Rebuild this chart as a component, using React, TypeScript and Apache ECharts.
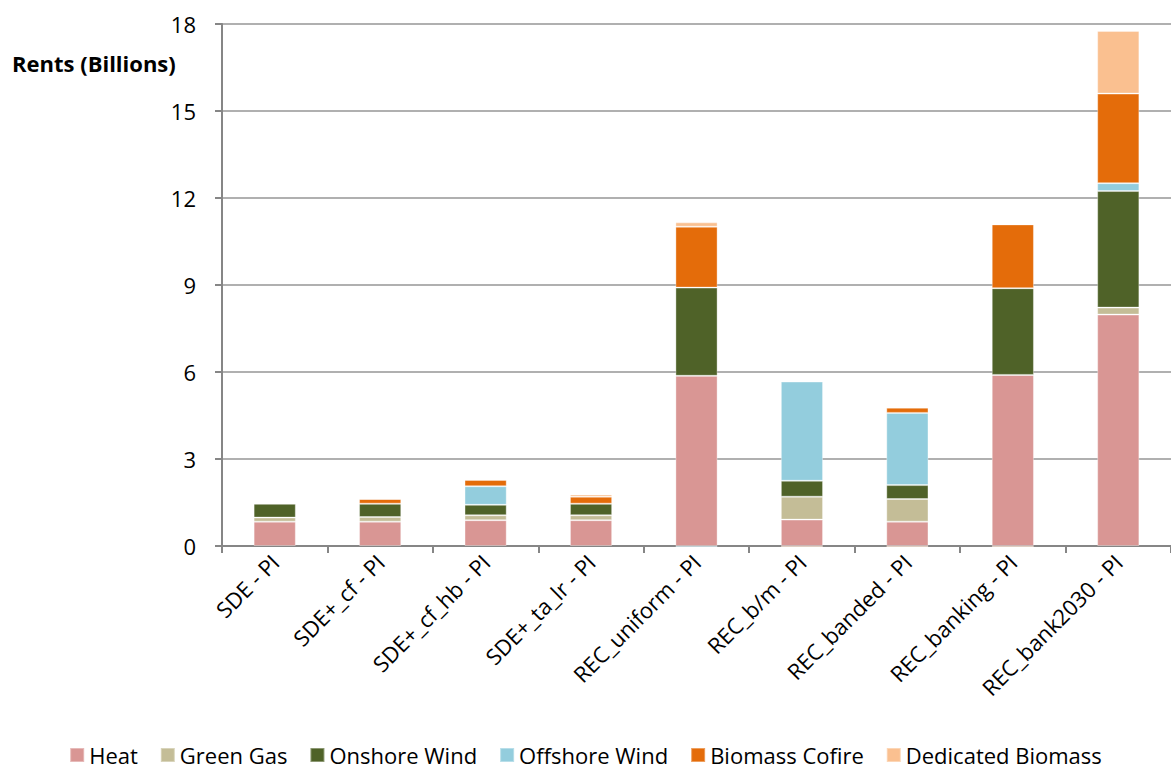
import React, { useEffect, useRef } from "react";
import * as echarts from "echarts";

const categories = [
  "SDE - PI",
  "SDE+_cf - PI",
  "SDE+_cf_hb - PI",
  "SDE+_ta_lr - PI",
  "REC_uniform - PI",
  "REC_b/m - PI",
  "REC_banded - PI",
  "REC_banking - PI",
  "REC_bank2030 - PI",
];

const heat = [0.84, 0.84, 0.89, 0.89, 5.87, 0.91, 0.84, 5.9, 7.98];
const greenGas = [0.14, 0.16, 0.17, 0.17, 0, 0.79, 0.78, 0, 0.24];
const onshoreWind = [0.48, 0.46, 0.36, 0.4, 3.04, 0.55, 0.48, 2.99, 4.02];
const offshoreWind = [0, 0, 0.64, 0, -0.05, 3.42, 2.49, 0, 0.27];
const biomassCofire = [0.03, 0.16, 0.22, 0.24, 2.1, 0.04, 0.18, 2.2, 3.09];
const dedicatedBiomass = [0, 0, 0.02, 0.08, 0.15, -0.05, -0.05, -0.05, 2.16];

const yTicks = { min: 0, max: 18, interval: 3 };

const seriesDefs = [
  { name: "Heat", data: heat, color: "#D99694" },
  { name: "Green Gas", data: greenGas, color: "#C4BD97" },
  { name: "Onshore Wind", data: onshoreWind, color: "#4F6228" },
  { name: "Offshore Wind", data: offshoreWind, color: "#93CDDD" },
  { name: "Biomass Cofire", data: biomassCofire, color: "#E46C0A" },
  { name: "Dedicated Biomass", data: dedicatedBiomass, color: "#FAC090" },
];

const FONT = "'Open Sans', Lato, sans-serif";

export default function App() {
  const ref = useRef<HTMLDivElement>(null);
  useEffect(() => {
    document.body.style.margin = "0";
    if (!ref.current) return;
    const chart = echarts.init(ref.current, undefined, { renderer: "svg" });
    chart.setOption({
      animation: false,
      backgroundColor: "#ffffff",
      textStyle: { fontFamily: FONT },
      grid: { left: 222, top: 24, width: 960, height: 522, containLabel: false },
      legend: {
        top: 744,
        left: "center",
        padding: 0,
        itemWidth: 14,
        itemHeight: 14,
        itemGap: 22,
        icon: "rect",
        textStyle: { fontSize: 22, lineHeight: 20, color: "#000", fontFamily: FONT },
        data: seriesDefs.map((s) => s.name),
      },
      graphic: [
        {
          type: "text",
          left: 12,
          top: 52,
          style: { text: "Rents (Billions)", font: `bold 22px ${FONT}`, fill: "#000" },
        },
      ],
      xAxis: {
        type: "category",
        data: categories,
        axisLine: { lineStyle: { color: "#868686", width: 2 } },
        axisTick: { show: true, length: 7, lineStyle: { color: "#868686", width: 2 } },
        axisLabel: { rotate: 45, fontSize: 22, color: "#000", margin: 12, interval: 0 },
      },
      yAxis: {
        type: "value",
        min: yTicks.min,
        max: yTicks.max,
        interval: yTicks.interval,
        axisLine: { show: true, lineStyle: { color: "#868686", width: 2 } },
        axisTick: { show: true, length: 7, lineStyle: { color: "#868686", width: 2 } },
        axisLabel: { fontSize: 22, color: "#000", margin: 26 },
        splitLine: { lineStyle: { color: "#969696", width: 1.5 } },
      },
      series: seriesDefs.map((s) => ({
        name: s.name,
        type: "bar",
        stack: "total",
        barWidth: "40%",
        clip: false,
        data: s.data,
        itemStyle: { color: s.color, borderColor: "rgba(255,255,255,0.35)", borderWidth: 1 },
      })),
    });
    return () => chart.dispose();
  }, []);
  return <div ref={ref} style={{ width: 1171, height: 771 }} />;
}
